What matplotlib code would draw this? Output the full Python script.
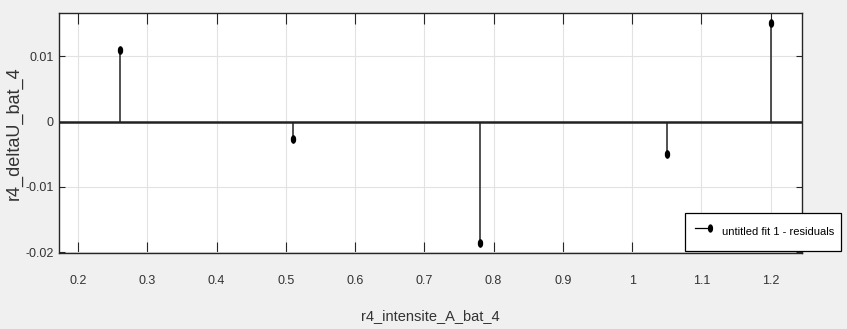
import numpy as np
import matplotlib
matplotlib.use('Agg')
import matplotlib.pyplot as plt
from matplotlib.path import Path
from matplotlib.lines import Line2D
from matplotlib.legend_handler import HandlerLine2D

# donnees (residus du fit)
intensite = [0.26, 0.51, 0.78, 1.05, 1.20]
residus = [0.0110, -0.0026, -0.0186, -0.0050, 0.0150]

x_ticks = [0.2, 0.3, 0.4, 0.5, 0.6, 0.7, 0.8, 0.9, 1.0, 1.1, 1.2]
x_ticklabels = ['0.2', '0.3', '0.4', '0.5', '0.6', '0.7', '0.8', '0.9', '1', '1.1', '1.2']
y_ticks = [-0.02, -0.01, 0, 0.01]
y_ticklabels = ['-0.02', '-0.01', '0', '0.01']

plt.rcParams['font.family'] = ['Liberation Sans', 'DejaVu Sans']

# marqueur ellipse (point ecrase horizontalement comme sur l'original)
cercle = Path.unit_circle()
ellipse = Path(cercle.vertices * np.array([0.55, 1.0]), cercle.codes)


class HandlerStem(HandlerLine2D):
    """trait avec le point seulement au bout droit (style matlab)"""
    def create_artists(self, legend, orig_handle, xdescent, ydescent,
                       width, height, fontsize, trans):
        arts = super().create_artists(legend, orig_handle, xdescent, ydescent,
                                      width, height, fontsize, trans)
        arts[0].set_markevery([1])
        return arts


fig = plt.figure(figsize=(8.47, 3.29), dpi=100, facecolor='#f0f0f0')
ax = fig.add_axes([59 / 847, 76 / 329, 743 / 847, 240 / 329])
ax.set_facecolor('white')

# tiges
ax.vlines(intensite, 0, residus, color='#222222', linewidth=1.1, zorder=3)
ax.plot(intensite, residus, linestyle='none', marker=ellipse, markersize=5.2,
        color='black', zorder=4)
ax.axhline(0, color='#222222', linewidth=1.8, zorder=2)

ax.set_xlim(0.1726, 1.2452)
ax.set_ylim(-0.0201, 0.0166)
ax.set_xticks(x_ticks)
ax.set_xticklabels(x_ticklabels)
ax.set_yticks(y_ticks)
ax.set_yticklabels(y_ticklabels)

ax.grid(True, color='#e2e2e2', linewidth=0.8)
ax.set_axisbelow(True)
for s in ax.spines.values():
    s.set_color('#262626')
    s.set_linewidth(1.0)

ax.tick_params(axis='both', direction='in', top=True, right=True,
               colors='#262626', labelcolor='#333333', labelsize=9, width=0.8)
ax.tick_params(axis='x', length=8, pad=16)
ax.tick_params(axis='y', length=4.5, pad=4)

ax.set_xlabel('r4_intensite_A_bat_4', fontsize=10.5, color='#333333')
ax.xaxis.set_label_coords(0.5, -0.232)
ax.set_ylabel('r4_deltaU_bat_4', fontsize=13, color='#333333')
ax.yaxis.set_label_coords(-0.0485, 0.5)

# legende style matlab (trait + point a droite)
proxy = Line2D([], [], color='black', linewidth=0.9, marker=ellipse, markersize=5)
leg = ax.legend([proxy], ['untitled fit 1 - residuals'], loc='lower right',
                bbox_to_anchor=(841 / 847, 78 / 329), bbox_transform=fig.transFigure,
                fontsize=8, fancybox=False, framealpha=1, edgecolor='black',
                borderpad=0.6, handlelength=2.0, handleheight=3.0,
                handletextpad=0.75, borderaxespad=0,
                handler_map={proxy: HandlerStem(numpoints=2)})
leg.get_frame().set_linewidth(0.9)
leg.set_zorder(10)

fig.savefig('out.png', dpi=100, facecolor=fig.get_facecolor())
